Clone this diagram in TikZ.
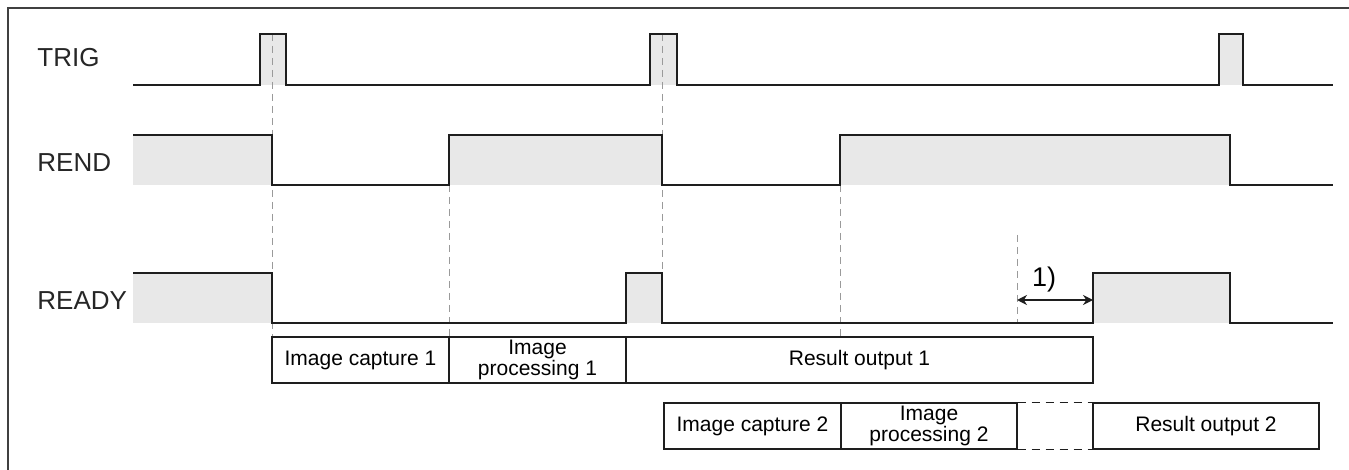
\documentclass[tikz,border=0pt]{standalone}
\usepackage{fontspec}
\setmainfont{Liberation Sans}
\usepackage{tikz}
\usetikzlibrary{arrows.meta}
\definecolor{sigfill}{HTML}{E8E8E8}
\definecolor{sigink}{HTML}{1E1E1E}
\definecolor{guidegray}{HTML}{9A9A9A}
\definecolor{framegray}{HTML}{404040}
\tikzset{
  signal/.style={sigink, line width=0.8pt, line join=miter},
  guide/.style={guidegray, line width=0.5pt, dash pattern=on 3.5pt off 2.5pt},
  signame/.style={anchor=west, inner sep=0pt, font=\fontsize{13}{14}\selectfont, text=black!85},
  phasebox/.style={draw=sigink, line width=0.7pt, inner sep=0pt, minimum height=23pt,
    align=center, font=\fontsize{10.5}{9.6}\selectfont},
}

\begin{document}
\begin{tikzpicture}[x=0.5pt, y=-0.5pt]
\useasboundingbox (0,0) rectangle (1349,470);
% frame, only top and left edges are visible
\draw[framegray, line width=0.8pt] (8,470) -- (8,8) -- (1349,8);

% signal names
\node[signame] (trig) at (37,58) {TRIG};
\node[signame] (rend) at (37,163) {REND};
\node[signame] (ready) at (37,301) {READY};

% shaded high levels
\fill[sigfill] (260,34) rectangle (286,85);
\fill[sigfill] (650,34) rectangle (677,85);
\fill[sigfill] (1219,34) rectangle (1243,85);
\fill[sigfill] (133,135) rectangle (272,185);
\fill[sigfill] (448,135) rectangle (662,185);
\fill[sigfill] (840,135) rectangle (1230,185);
\fill[sigfill] (133,273) rectangle (272,323);
\fill[sigfill] (626,273) rectangle (662,323);
\fill[sigfill] (1093,273) rectangle (1230,323);

% dashed guides
\draw[guide] (272,34) -- (272,337);
\draw[guide] (662,34) -- (662,323);
\draw[guide] (449,185) -- (449,337);
\draw[guide] (840,185) -- (840,337);
\draw[guide] (1017,235) -- (1017,323);

% waveforms
\draw[signal] (133,85) -- (260,85) -- (260,34) -- (286,34) -- (286,85)
  -- (650,85) -- (650,34) -- (677,34) -- (677,85)
  -- (1219,85) -- (1219,34) -- (1243,34) -- (1243,85) -- (1333,85);
\draw[signal] (133,135) -- (272,135) -- (272,185) -- (449,185) -- (449,135)
  -- (662,135) -- (662,185) -- (840,185) -- (840,135)
  -- (1230,135) -- (1230,185) -- (1333,185);
\draw[signal] (133,273) -- (272,273) -- (272,323) -- (626,323) -- (626,273)
  -- (662,273) -- (662,323) -- (1093,323) -- (1093,273)
  -- (1230,273) -- (1230,323) -- (1333,323);

% first cycle
\node[phasebox, minimum width=88.5pt] (cap1) at (360.5,360) {Image capture 1};
\node[phasebox, minimum width=88.5pt] (proc1) at (537.5,360) {Image\\processing 1};
\node[phasebox, minimum width=233.5pt] (res1) at (859.5,360) {Result output 1};

% second cycle
\node[phasebox, minimum width=88.5pt] (cap2) at (752.5,426) {Image capture 2};
\node[phasebox, minimum width=88pt] (proc2) at (929,426) {Image\\processing 2};
\node[phasebox, minimum width=113pt] (res2) at (1206,426) {Result output 2};
\draw[sigink, line width=0.7pt, dash pattern=on 4pt off 3pt]
  (proc2.north east) -- (res2.north west);
\draw[sigink, line width=0.7pt, dash pattern=on 4pt off 3pt]
  (proc2.south east) -- (res2.south west);

% waiting time 1)
\coordinate (waitL) at (1017,300);
\coordinate (waitR) at (1093,300);
\draw[{Stealth[length=5pt,width=5pt]}-{Stealth[length=5pt,width=5pt]}, sigink, line width=0.8pt]
  (waitL) -- (waitR);
\node[font=\fontsize{13.5}{14}\selectfont] (wait) at (1044,280) {1)};
\end{tikzpicture}
\end{document}
